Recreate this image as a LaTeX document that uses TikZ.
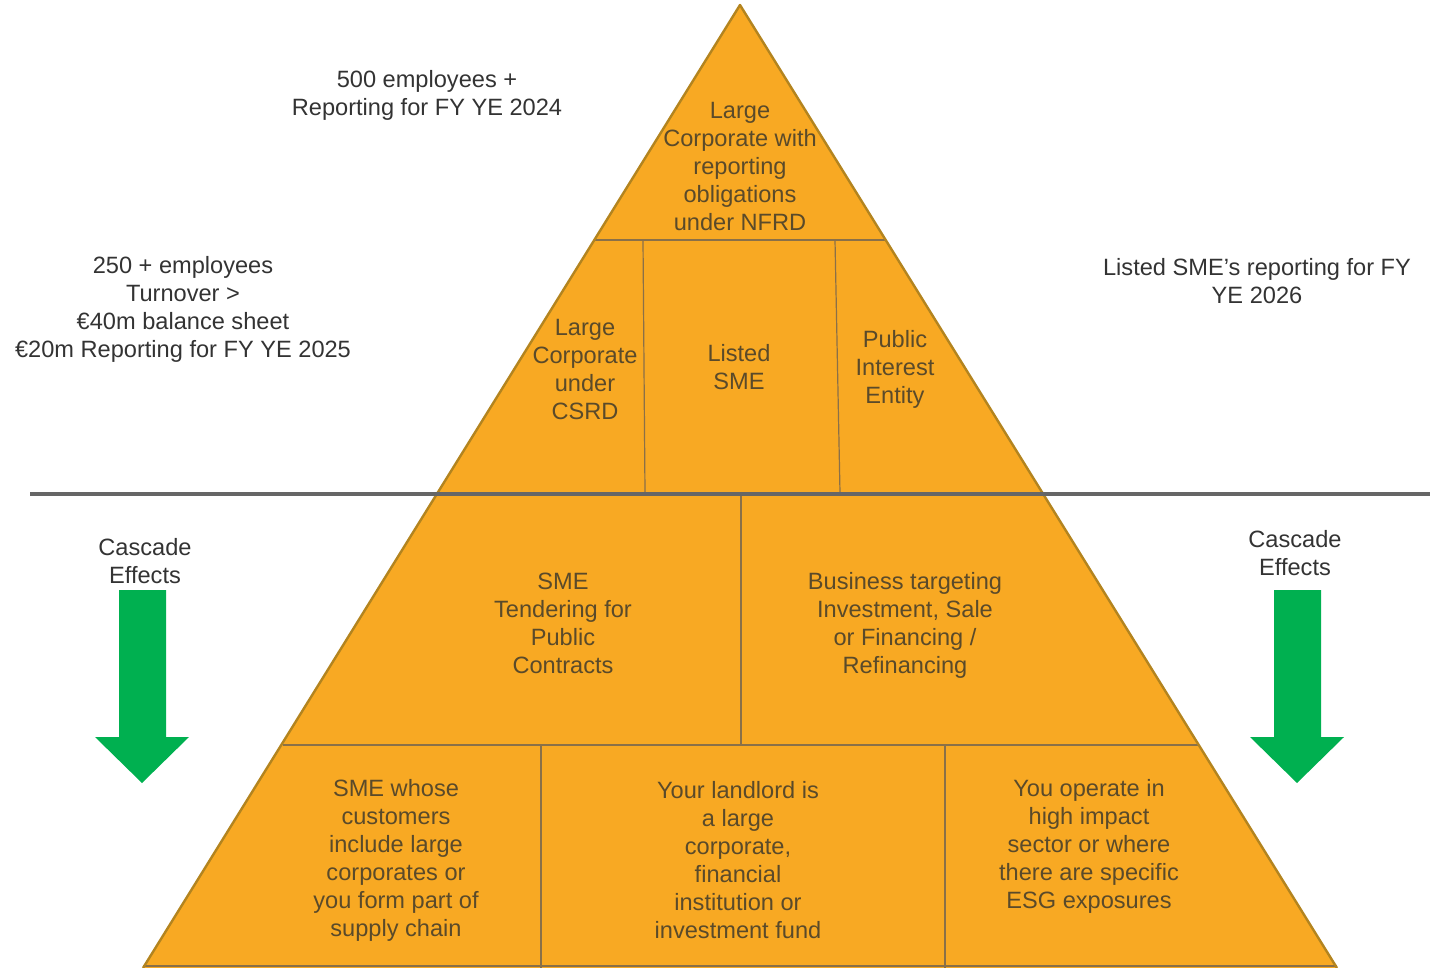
\documentclass[tikz,border=0pt]{standalone}
\usepackage{fontspec}
\setmainfont{Liberation Sans}
\definecolor{pyfill}{HTML}{F8A923}
\definecolor{pyedge}{HTML}{B3841F}
\definecolor{pyline}{HTML}{8A7048}
\definecolor{pytext}{HTML}{5A4A2A}
\definecolor{outtext}{HTML}{333333}
\definecolor{sepgray}{HTML}{666666}
\definecolor{arrowgreen}{HTML}{00B050}
\begin{document}
\begin{tikzpicture}[x=0.5pt,y=-0.5pt,
  intext/.style={align=center,text=pytext,font=\fontsize{11.8}{14}\selectfont,inner sep=0pt},
  outtxt/.style={align=center,text=outtext,font=\fontsize{11.8}{14}\selectfont,inner sep=0pt},
  divider/.style={draw=pyline,line width=0.6pt},
  greenarrow/.style={fill=arrowgreen,draw=none}]
\useasboundingbox (0,0) rectangle (1430,968);
% pyramid
\fill[pyfill] (740,5) -- (1337,968) -- (143,968) -- cycle;
% dividers
\draw[divider] (595,240) -- (885,240);
\draw[divider] (283,745) -- (1198,745);
\draw[divider] (643,240) -- (645,493);
\draw[divider] (835,240) -- (840,493);
\draw[divider] (741,493) -- (741,745);
\draw[divider] (541,745) -- (541,968);
\draw[divider] (945,745) -- (945,968);
\draw[divider] (143,966) -- (1337,966);
% outline
\draw[pyedge,line width=1.2pt,line join=round] (143,968) -- (740,5) -- (1337,968);
% separator
\draw[sepgray,line width=2pt] (30,494) -- (1430,494);
% arrows
\fill[greenarrow] (119,590) -- (166,590) -- (166,737) -- (189,737) -- (142,783) -- (95,737) -- (119,737) -- cycle;
\fill[greenarrow] (1274,590) -- (1321,590) -- (1321,737) -- (1344,737) -- (1297,783) -- (1250,737) -- (1274,737) -- cycle;
% outside texts
\node[outtxt] (t2024) at (427,95) {500 employees +\\Reporting for FY YE 2024};
\node[outtxt] (t2025) at (183,309) {250 + employees\\Turnover >\\€40m balance sheet\\€20m Reporting for FY YE 2025};
\node[outtxt] (t2026) at (1257,281) {Listed SME’s reporting for FY\\YE 2026};
\node[outtxt] (cascL) at (145,561) {Cascade\\Effects};
\node[outtxt] (cascR) at (1295,553) {Cascade\\Effects};
% inside texts
\node[intext] (nfrd) at (740,166) {Large\\Corporate with\\reporting\\obligations\\under NFRD};
\node[intext] (csrd) at (585,369) {Large\\Corporate\\under\\CSRD};
\node[intext] (lsme) at (739,367) {Listed\\SME};
\node[intext] (pie) at (895,369) {Public\\Interest\\Entity};
\node[intext] (tend) at (563,623) {SME\\Tendering for\\Public\\Contracts};
\node[intext] (bus) at (905,625) {Business targeting\\Investment, Sale\\or Financing /\\Refinancing};
\node[intext] (cust) at (396,860) {SME whose\\customers\\include large\\corporates or\\you form part of\\supply chain};
\node[intext] (land) at (738,860) {Your landlord is\\a large\\corporate,\\financial\\institution or\\investment fund};
\node[intext] (esg) at (1089,846) {You operate in\\high impact\\sector or where\\there are specific\\ESG exposures};
\end{tikzpicture}
\end{document}
